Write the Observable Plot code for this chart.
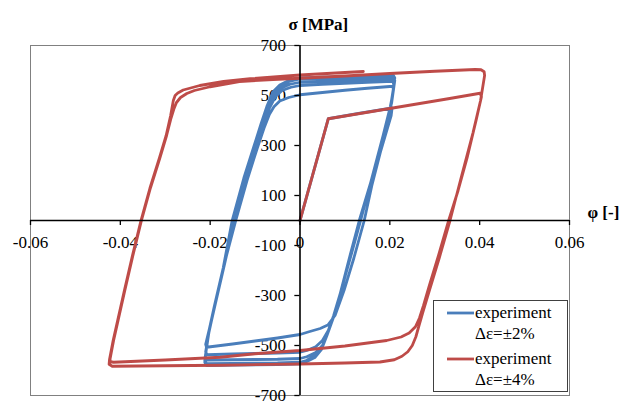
<!DOCTYPE html>
<html><head><meta charset="utf-8">
<script src="https://cdn.jsdelivr.net/npm/d3@7"></script>
<script src="https://cdn.jsdelivr.net/npm/@observablehq/plot@0.6"></script>
<style>
body{margin:0;background:#fff}
#chart{position:relative;width:619px;height:401px}
#chart svg text{font-family:"Liberation Serif", serif !important}
</style>
</head><body><div id="chart"></div>
<script>
// ---- axis ticks & labels ----
const xTicks = [-0.06, -0.04, -0.02, 0, 0.02, 0.04, 0.06];
const xTickLabels = ["-0.06", "-0.04", "-0.02", "0", "0.02", "0.04", "0.06"];
const yTicks = [700, 500, 300, 100, -100, -300, -500, -700];
const yTickLabels = ["700", "500", "300", "100", "-100", "-300", "-500", "-700"];

// ---- series names ----
const seriesNames = ["experiment\nΔε=±2%", "experiment\nΔε=±4%"];

// ---- blue series: Δε = ±2% (strain, stress [MPa]) ----
const blueLoading = [[0,0],[0.0063,407],[0.0130,428],[0.0205,450]];
const blueDown1 = [[0.0203,420],[0.0180,280],[0.0160,140],[0.0143,0],[0.0120,-150],[0.0098,-280],[0.0078,-380],[0.0062,-418],[0.0045,-432],[0.0020,-445],[0,-456],[-0.0050,-470],[-0.0100,-482],[-0.0150,-494],[-0.0208,-507]];
const blueUp1 = [[-0.0210,-495],[-0.0200,-420],[-0.0187,-320],[-0.0168,-170],[-0.0143,0],[-0.0118,160],[-0.0095,290],[-0.0080,370],[-0.0068,425],[-0.0058,455],[-0.0045,478],[-0.0025,492],[0,503],[0.0050,512],[0.0100,521],[0.0150,529],[0.0207,537]];
const blueDown2 = [[0.0208,520],[0.0201,455],[0.0185,340],[0.0160,170],[0.0135,0],[0.0112,-150],[0.0090,-290],[0.0075,-380],[0.0063,-440],[0.0050,-480],[0.0035,-505],[0.0015,-520],[0,-527],[-0.0050,-530],[-0.0100,-532],[-0.0150,-534],[-0.0207,-537]];
const blueUp2 = [[-0.0210,-525],[-0.0202,-440],[-0.0188,-330],[-0.0168,-175],[-0.0146,0],[-0.0120,170],[-0.0097,300],[-0.0082,380],[-0.0068,450],[-0.0055,495],[-0.0040,520],[-0.0020,533],[0,540],[0.0050,545],[0.0100,549],[0.0150,553],[0.0207,557]];
const blueDown3 = [[0.0209,540],[0.0202,460],[0.0186,345],[0.0161,175],[0.0134,0],[0.0110,-160],[0.0089,-300],[0.0074,-390],[0.0062,-450],[0.0050,-500],[0.0035,-528],[0.0015,-545],[0,-552],[-0.0050,-555],[-0.0100,-556],[-0.0150,-557],[-0.0208,-558]];
const blueUp3 = [[-0.0211,-545],[-0.0203,-450],[-0.0189,-335],[-0.0169,-180],[-0.0148,0],[-0.0122,170],[-0.0099,300],[-0.0084,380],[-0.0070,455],[-0.0057,505],[-0.0042,530],[-0.0022,545],[0,553],[0.0050,557],[0.0100,561],[0.0150,564],[0.0208,568]];
const blueDown4 = [[0.0210,550],[0.0203,465],[0.0187,350],[0.0162,180],[0.0133,0],[0.0108,-165],[0.0088,-305],[0.0073,-395],[0.0061,-455],[0.0049,-510],[0.0034,-540],[0.0014,-560],[0,-567],[-0.0050,-570],[-0.0100,-571],[-0.0150,-572],[-0.0208,-573]];
const blueUp4 = [[-0.0212,-560],[-0.0204,-455],[-0.0190,-340],[-0.0170,-185],[-0.0150,0],[-0.0124,170],[-0.0101,300],[-0.0086,380],[-0.0072,455],[-0.0059,510],[-0.0044,538],[-0.0024,556],[0,566],[0.0050,569],[0.0100,572],[0.0150,574],[0.0208,577]];
const blueDown5 = [[0.0211,560],[0.0204,470],[0.0188,355],[0.0163,185],[0.0132,0],[0.0107,-170],[0.0087,-310],[0.0072,-400],[0.0060,-460],[0.0048,-515],[0.0033,-548],[0.0013,-566],[0,-573],[-0.0050,-576],[-0.0100,-577],[-0.0150,-578],[-0.0208,-580]];
const blueUp5 = [[-0.0212,-567],[-0.0205,-460],[-0.0191,-345],[-0.0171,-190],[-0.0151,0],[-0.0125,170],[-0.0102,300],[-0.0087,385],[-0.0073,460],[-0.0060,515],[-0.0045,542],[-0.0025,560],[0,570],[0.0050,573],[0.0100,575],[0.0150,577],[0.0208,580],[0.0211,570]];

// ---- red series: Δε = ±4% (strain, stress [MPa]) ----
const redLoading = [[0,0],[0.0063,407],[0.0150,433],[0.0250,463],[0.0330,487],[0.0401,509]];
const redDown1 = [[0.0404,495],[0.0392,400],[0.0372,250],[0.0352,120],[0.0331,0],[0.0310,-130],[0.0288,-260],[0.0275,-340],[0.0266,-390],[0.0257,-425],[0.0243,-450],[0.0225,-466],[0.0193,-480],[0.0100,-502],[0,-520],[-0.0100,-533],[-0.0178,-547],[-0.0300,-558],[-0.0415,-567],[-0.0422,-565]];
const redUp1 = [[-0.0423,-555],[-0.0415,-480],[-0.0405,-400],[-0.0390,-280],[-0.0372,-140],[-0.0353,0],[-0.0333,130],[-0.0312,250],[-0.0297,340],[-0.0287,410],[-0.0281,445],[-0.0275,472],[-0.0266,492],[-0.0252,508],[-0.0235,520],[-0.0200,535],[-0.0135,556],[-0.0060,564],[0,569],[0.0100,578],[0.0200,588],[0.0300,597],[0.0390,604],[0.0403,603],[0.0410,595]];
const redDown2 = [[0.0411,580],[0.0402,480],[0.0385,350],[0.0360,180],[0.0334,0],[0.0310,-150],[0.0288,-280],[0.0273,-370],[0.0265,-420],[0.0258,-465],[0.0250,-500],[0.0240,-525],[0.0227,-543],[0.0210,-557],[0.0178,-566],[0.0100,-570],[0,-574],[-0.0178,-579],[-0.0300,-581],[-0.0418,-583],[-0.0425,-575]];
const redUp2 = [[-0.0424,-555],[-0.0416,-480],[-0.0406,-400],[-0.0391,-280],[-0.0373,-140],[-0.0354,0],[-0.0334,130],[-0.0313,250],[-0.0298,340],[-0.0288,420],[-0.0282,480],[-0.0278,500],[-0.0272,510],[-0.0260,522],[-0.0223,540],[-0.0170,556],[-0.0111,567],[0,582],[0.0080,590],[0.0141,596]];

const toRows = (pairs) => pairs.map(([x, y]) => ({x, y}));
const blueRows = toRows([...blueLoading, ...blueDown1, ...blueUp1, ...blueDown2, ...blueUp2, ...blueDown3, ...blueUp3, ...blueDown4, ...blueUp4, ...blueDown5, ...blueUp5]);
const redRows = toRows([...redLoading, ...redDown1, ...redUp1, ...redDown2, ...redUp2]);

const BLUE = "#4A7EBB", RED = "#BE4B48";
const FONT = "Liberation Serif, serif";

const chart = Plot.plot({
  width: 619, height: 401,
  marginLeft: 30, marginRight: 50, marginTop: 45, marginBottom: 6,
  style: {fontFamily: FONT, background: "#fff", overflow: "visible"},
  x: {domain: [-0.06, 0.06], axis: null},
  y: {domain: [-700, 700], axis: null},
  marks: [
    Plot.frame({stroke: "#808080", strokeWidth: 1}),
    // tick labels
    Plot.text(xTicks, {x: d => d, y: 0, dy: 22, text: (d, i) => xTickLabels[i], fontSize: 17, fontFamily: FONT, fill: "#000"}),
    Plot.text(yTicks, {x: 0, y: d => d, dx: -14, textAnchor: "end", text: (d, i) => yTickLabels[i], fontSize: 17, fontFamily: FONT, fill: "#000"}),
    // data
    Plot.line(blueRows, {x: "x", y: "y", stroke: BLUE, strokeWidth: 2.8, curve: "linear", strokeLinejoin: "round"}),
    Plot.line(redRows, {x: "x", y: "y", stroke: RED, strokeWidth: 2.8, curve: "linear", strokeLinejoin: "round"}),
    // axes through origin
    Plot.ruleY([0], {stroke: "#000", strokeWidth: 1.6}),
    Plot.ruleX([0], {stroke: "#000", strokeWidth: 1.6}),
    Plot.ruleX(xTicks, {x: d => d, y1: 0, y2: -20, stroke: "#000", strokeWidth: 1.3}),
    Plot.ruleY(yTicks, {y: d => d, x1: 0, x2: -0.00115, stroke: "#000", strokeWidth: 1.3}),
    // axis titles
    Plot.text(["σ [MPa]"], {frameAnchor: "top-left", dx: 258, dy: -28, text: d => d, fontSize: 17, fontFamily: FONT, fontWeight: "bold", fill: "#000"}),
    Plot.text(["φ [-]"], {x: 0.06, y: 0, dx: 18, dy: -8, textAnchor: "start", text: d => d, fontSize: 17, fontFamily: FONT, fontWeight: "bold", fill: "#000"})
  ]
});
document.getElementById("chart").appendChild(chart);

// legend inside the plot area
const svg = d3.select(chart);
const lg = svg.append("g").attr("font-family", FONT).attr("font-size", 17).attr("fill", "#000").attr("text-anchor", "start");
lg.append("rect").attr("x", 433.5).attr("y", 300.5).attr("width", 134).attr("height", 91)
  .attr("fill", "#fff").attr("stroke", "#404040").attr("stroke-width", 1);
const colors = [BLUE, RED];
const rowsY = [313, 359];
seriesNames.forEach((name, i) => {
  const [l1, l2] = name.split("\n");
  lg.append("line").attr("x1", 447).attr("x2", 474).attr("y1", rowsY[i]).attr("y2", rowsY[i])
    .attr("stroke", colors[i]).attr("stroke-width", 2.8);
  lg.append("text").attr("x", 475).attr("y", rowsY[i]).attr("dy", "0.32em").attr("text-anchor", "start").text(l1);
  lg.append("text").attr("x", 475).attr("y", rowsY[i] + 21).attr("dy", "0.32em").attr("text-anchor", "start").text(l2);
});
</script></body></html>
